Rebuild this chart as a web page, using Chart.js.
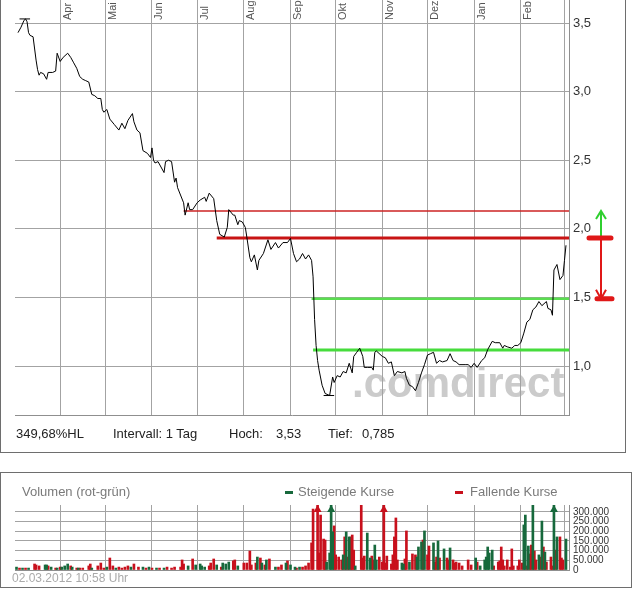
<!DOCTYPE html>
<html>
<head>
<meta charset="utf-8">
<script src="https://cdn.jsdelivr.net/npm/chart.js@4.4.1/dist/chart.umd.min.js"></script>
<style>
  body { margin: 0; background: #fff; font-family: "Liberation Sans", Arial, sans-serif; }
  #wrap { position: relative; width: 632px; height: 590px; overflow: hidden; }
  .box { position: absolute; border: 1px solid #6e6e6e; box-sizing: border-box; }
  .txt { position: absolute; white-space: nowrap; font-size: 13px; line-height: 16px; }
  .dash { position: absolute; width: 8px; height: 3px; }
  canvas { position: absolute; left: 0; }
</style>
</head>
<body>
<div id="wrap">
  <canvas id="priceChart" width="632" height="452" style="top:0"></canvas>
  <canvas id="volChart" width="632" height="85" style="top:495px"></canvas>

  <div class="box" style="left:0;top:-2px;width:626px;height:455px;"></div>
  <div class="box" style="left:0;top:472px;width:632px;height:116px;"></div>

  <div class="txt" style="left:16px;top:426px;color:#222">349,68%HL</div>
  <div class="txt" style="left:113px;top:426px;color:#222">Intervall: 1 Tag</div>
  <div class="txt" style="left:229px;top:426px;color:#222">Hoch:</div>
  <div class="txt" style="left:276px;top:426px;color:#222">3,53</div>
  <div class="txt" style="left:328px;top:426px;color:#222">Tief:</div>
  <div class="txt" style="left:362px;top:426px;color:#222">0,785</div>

  <div class="txt" style="left:22px;top:484px;color:#7a7a7a">Volumen (rot-grün)</div>
  <div class="dash" style="left:285px;top:491px;background:#17693c"></div>
  <div class="txt" style="left:298px;top:484px;color:#7a7a7a">Steigende Kurse</div>
  <div class="dash" style="left:455px;top:491px;background:#c8101c"></div>
  <div class="txt" style="left:470px;top:484px;color:#7a7a7a">Fallende Kurse</div>

  <div class="txt" style="left:12px;top:570px;font-size:12px;color:#aaa">02.03.2012 10:58 Uhr</div>
</div>

<script>
// days counted from 1 March 2011
const months = ['Apr', 'Mai', 'Jun', 'Jul', 'Aug', 'Sep', 'Okt', 'Nov', 'Dez', 'Jan', 'Feb'];
const monthDays = [31, 61, 92, 122, 153, 184, 214, 245, 275, 306, 337];
const gridDays = [31, 61, 92, 122, 153, 184, 214, 245, 275, 306, 337, 366];

const priceTicks = [1.0, 1.5, 2.0, 2.5, 3.0, 3.5];
const volTicks = [0, 50000, 100000, 150000, 200000, 250000, 300000];

const days = [3, 5, 7, 8, 9, 10, 11, 13, 15, 16, 17, 18, 20, 22, 23, 26, 28, 29, 31, 33,
  36, 38, 40, 42, 44, 46, 48, 50, 52, 54, 56, 58, 59, 60, 62, 64, 67, 70, 72, 74,
  76, 79, 80, 82, 84, 86, 89, 91, 92, 93, 94, 96, 100, 101, 103, 105, 107, 108, 109, 113,
  114, 116, 117, 119, 122, 124, 127, 128, 130, 133, 135, 137, 140, 142, 143, 146, 147, 149, 150, 152,
  154, 155, 157, 158, 160, 162, 163, 166, 169, 171, 174, 176, 179, 182, 184, 186, 188, 190, 192, 194,
  196, 198, 199, 200, 201, 202, 203, 205, 207, 210, 212, 213, 215, 217, 219, 221, 223, 225, 226, 228,
  230, 232, 233, 235, 238, 239, 240, 241, 245, 247, 249, 251, 253, 255, 258, 260, 261, 263, 265, 267,
  269, 271, 273, 275, 277, 279, 281, 283, 285, 288, 290, 292, 294, 296, 300, 302, 304, 306, 308, 311,
  313, 315, 318, 320, 323, 325, 326, 328, 331, 333, 335, 337, 339, 341, 343, 345, 347, 349, 351, 354,
  355, 357, 358, 359, 361, 363, 365, 366, 367];
const prices = [3.43, 3.47, 3.52, 3.53, 3.51, 3.43, 3.41, 3.40, 3.23, 3.16, 3.12, 3.14, 3.13, 3.09, 3.14, 3.14, 3.15, 3.28, 3.22, 3.25,
  3.28, 3.25, 3.21, 3.17, 3.11, 3.09, 3.08, 3.07, 2.98, 2.97, 2.95, 2.95, 2.87, 2.85, 2.87, 2.80, 2.76, 2.72, 2.77, 2.73,
  2.79, 2.84, 2.78, 2.72, 2.70, 2.57, 2.55, 2.52, 2.59, 2.50, 2.48, 2.49, 2.41, 2.49, 2.50, 2.49, 2.34, 2.37, 2.30, 2.19,
  2.10, 2.19, 2.14, 2.14, 2.19, 2.21, 2.23, 2.20, 2.26, 2.22, 2.06, 1.96, 1.94, 2.01, 2.14, 2.10, 2.10, 2.03, 2.06, 2.05,
  2.01, 1.94, 1.79, 1.76, 1.81, 1.70, 1.77, 1.82, 1.92, 1.85, 1.90, 1.86, 1.90, 1.90, 1.93, 1.82, 1.76, 1.78, 1.82, 1.78,
  1.81, 1.77, 1.65, 1.34, 1.15, 1.04, 0.97, 0.86, 0.80, 0.785, 0.92, 0.88, 0.93, 0.92, 0.96, 0.95, 1.02, 0.95, 1.07, 1.10,
  1.13, 1.07, 0.99, 0.99, 0.99, 0.97, 1.10, 1.11, 1.07, 1.06, 1.02, 1.03, 0.93, 0.96, 0.95, 0.96, 0.91, 0.86, 0.85, 0.82,
  0.88, 0.95, 1.01, 1.08, 1.09, 1.10, 1.02, 1.04, 1.03, 1.04, 1.09, 1.04, 1.03, 1.01, 1.01, 1.01, 0.99, 1.02, 0.99, 1.04,
  1.06, 1.12, 1.18, 1.17, 1.17, 1.13, 1.15, 1.14, 1.13, 1.15, 1.15, 1.17, 1.24, 1.32, 1.34, 1.41, 1.43, 1.47, 1.44, 1.47,
  1.42, 1.41, 1.37, 1.70, 1.74, 1.63, 1.66, 1.77, 1.88];

// resistance / support lines: level and the day where each line starts
const levels = [2.13, 1.933, 1.49, 1.117];
const levelStart = [113, 135, 198, 199];
const levelColors = ['rgb(205,35,35)', 'rgb(200,20,20)', 'rgb(90,222,80)', 'rgb(70,220,60)'];
const levelWidths = [1.5, 3, 2.5, 3];

const highMark = { value: 3.53, from: 4, to: 11 };
const lowMark = { value: 0.785, from: 206, to: 213 };

// volume (rot-grün)
const upDays = [2, 6, 10, 21, 22, 25, 29, 32, 34, 36, 39, 43, 52, 62, 68, 78, 86, 90, 95, 100,
  116, 121, 124, 125, 127, 135, 139, 141, 143, 149, 162, 165, 168, 174, 181, 184, 187, 190, 208, 210,
  211, 212, 219, 221, 223, 227, 235, 237, 240, 241, 258, 259, 263, 268, 269, 271, 273, 279, 282, 286,
  290, 307, 310, 313, 314, 315, 316, 318, 339, 340, 342, 345, 349, 351, 353, 359, 361, 367];
const upVol = [15000, 10000, 10000, 26000, 26000, 15000, 10000, 15000, 21000, 31000, 15000, 10000, 10000, 15000, 10000, 15000, 15000, 15000, 10000, 10000,
  21000, 26000, 31000, 21000, 15000, 26000, 36000, 31000, 41000, 21000, 67000, 36000, 52000, 15000, 36000, 26000, 15000, 15000, 41000, 88000,
  400000, 197000, 78000, 197000, 171000, 21000, 191000, 62000, 129000, 52000, 36000, 31000, 41000, 67000, 119000, 145000, 202000, 140000, 150000, 109000,
  114000, 62000, 21000, 52000, 67000, 119000, 88000, 103000, 233000, 284000, 124000, 335000, 78000, 253000, 93000, 400000, 171000, 160000];

const downDays = [4, 8, 14, 15, 17, 23, 28, 31, 38, 42, 44, 46, 50, 51, 56, 58, 60, 64, 66, 70,
  72, 74, 76, 80, 83, 88, 92, 97, 102, 105, 107, 111, 112, 113, 119, 130, 131, 133, 138, 146,
  147, 153, 155, 157, 158, 161, 164, 167, 170, 176, 178, 182, 188, 192, 194, 196, 198, 199, 202, 203,
  204, 206, 207, 213, 214, 216, 218, 220, 222, 224, 225, 226, 231, 232, 233, 238, 239, 243, 245, 246,
  247, 248, 251, 252, 253, 254, 255, 260, 261, 265, 267, 272, 275, 276, 280, 281, 283, 288, 289, 292,
  293, 294, 296, 298, 302, 304, 308, 319, 322, 323, 324, 325, 326, 328, 330, 331, 332, 335, 336, 338,
  341, 343, 344, 346, 347, 350, 352, 354, 357, 358, 360, 363, 364, 365];
const downVol = [10000, 10000, 31000, 26000, 21000, 21000, 10000, 15000, 21000, 10000, 10000, 10000, 21000, 31000, 21000, 36000, 10000, 62000, 21000, 15000,
  10000, 15000, 21000, 31000, 15000, 10000, 10000, 10000, 15000, 10000, 15000, 15000, 52000, 31000, 57000, 21000, 36000, 57000, 15000, 47000,
  52000, 36000, 36000, 98000, 26000, 36000, 62000, 26000, 57000, 15000, 26000, 47000, 10000, 15000, 21000, 36000, 140000, 315000, 400000, 88000,
  284000, 160000, 155000, 228000, 78000, 67000, 52000, 171000, 67000, 171000, 181000, 103000, 335000, 62000, 72000, 72000, 52000, 67000, 41000, 400000,
  36000, 72000, 31000, 78000, 171000, 269000, 52000, 57000, 202000, 83000, 78000, 155000, 78000, 124000, 41000, 67000, 62000, 62000, 52000, 52000,
  36000, 41000, 36000, 21000, 52000, 26000, 41000, 21000, 41000, 47000, 119000, 52000, 21000, 52000, 15000, 109000, 21000, 21000, 52000, 36000,
  21000, 83000, 129000, 98000, 52000, 67000, 119000, 41000, 67000, 21000, 103000, 171000, 62000, 52000];

const FONT = '"Liberation Sans", Arial, sans-serif';
const GRID = '#a3a3a3';

const priceLine = days.map((d, i) => ({ x: d, y: prices[i] }));

const levelSets = levels.map((v, i) => ({
  data: [{ x: levelStart[i], y: v }, { x: 369, y: v }],
  borderColor: levelColors[i],
  borderWidth: levelWidths[i],
  pointRadius: 0
}));

const markSets = [highMark, lowMark].map(m => ({
  data: [{ x: m.from, y: m.value }, { x: m.to, y: m.value }],
  borderColor: '#000',
  borderWidth: 1,
  pointRadius: 0
}));

const watermark = {
  id: 'watermark',
  beforeDraw(chart) {
    const { ctx, chartArea } = chart;
    ctx.save();
    ctx.font = 'bold 42px ' + FONT;
    ctx.fillStyle = '#cbcbcb';
    ctx.textAlign = 'left';
    ctx.textBaseline = 'alphabetic';
    ctx.fillText('.comdirect', chartArea.right - 217, chartArea.bottom - 18);
    ctx.restore();
  }
};

const monthLabels = {
  id: 'monthLabels',
  afterDraw(chart) {
    const { ctx } = chart;
    const x = chart.scales.x;
    ctx.save();
    ctx.font = '11px ' + FONT;
    ctx.fillStyle = '#555';
    ctx.textAlign = 'left';
    ctx.textBaseline = 'alphabetic';
    months.forEach((m, i) => {
      const px = x.getPixelForValue(monthDays[i]);
      ctx.save();
      ctx.translate(px + 10.5, 20);
      ctx.rotate(-Math.PI / 2);
      ctx.fillText(m, 0, 0);
      ctx.restore();
    });
    ctx.restore();
  }
};

const rangeArrows = {
  id: 'rangeArrows',
  afterDraw(chart) {
    const { ctx, chartArea } = chart;
    const y = chart.scales.y;
    const ax = chartArea.right + 32;
    const yTop = y.getPixelForValue(levels[0]);
    const yRes = y.getPixelForValue(levels[1]);
    const ySup = y.getPixelForValue(levels[2]);
    ctx.save();
    ctx.lineWidth = 2;
    ctx.strokeStyle = '#2fcf2f';
    ctx.beginPath();
    ctx.moveTo(ax, yRes); ctx.lineTo(ax, yTop);
    ctx.moveTo(ax - 5, yTop + 8); ctx.lineTo(ax, yTop); ctx.lineTo(ax + 5, yTop + 8);
    ctx.stroke();
    ctx.strokeStyle = '#e01818';
    ctx.beginPath();
    ctx.moveTo(ax, yRes); ctx.lineTo(ax, ySup);
    ctx.moveTo(ax - 5, ySup - 9); ctx.lineTo(ax, ySup); ctx.lineTo(ax + 5, ySup - 9);
    ctx.stroke();
    ctx.lineWidth = 5;
    ctx.lineCap = 'round';
    ctx.beginPath();
    ctx.moveTo(ax - 12, yRes); ctx.lineTo(ax + 10, yRes);
    ctx.moveTo(ax - 4, ySup); ctx.lineTo(ax + 11, ySup);
    ctx.stroke();
    ctx.restore();
  }
};

new Chart(document.getElementById('priceChart'), {
  type: 'line',
  data: {
    datasets: [
      { data: priceLine, borderColor: '#000', borderWidth: 1, pointRadius: 0, tension: 0 },
      ...markSets,
      ...levelSets
    ]
  },
  options: {
    responsive: false,
    animation: false,
    events: [],
    plugins: { legend: { display: false }, tooltip: { enabled: false } },
    layout: { padding: { left: 15, right: 7, top: 0, bottom: 37 } },
    scales: {
      x: {
        type: 'linear', min: 1, max: 369,
        border: { display: true, color: '#8f8f8f' },
        grid: { color: GRID, drawTicks: false },
        ticks: { display: false },
        afterBuildTicks: s => { s.ticks = gridDays.map(v => ({ value: v })); },
        afterFit: s => { s.height = 0; s.paddingLeft = 0; s.paddingRight = 0; }
      },
      y: {
        position: 'right', min: 0.643, max: 3.668,
        border: { display: true, color: '#8f8f8f' },
        grid: { color: GRID, drawTicks: false },
        ticks: {
          padding: 4, color: '#333', font: { family: FONT, size: 13 },
          callback: v => v.toFixed(1).replace('.', ',')
        },
        afterBuildTicks: s => { s.ticks = priceTicks.map(v => ({ value: v })); },
        afterFit: s => { s.width = 56; s.paddingTop = 0; s.paddingBottom = 0; }
      }
    }
  },
  plugins: [watermark, monthLabels, rangeArrows]
});

const VOL_MAX = 336000;

const clipArrows = {
  id: 'clipArrows',
  afterDatasetsDraw(chart) {
    const { ctx, chartArea } = chart;
    const x = chart.scales.x;
    chart.data.datasets.forEach(ds => {
      ds.data.forEach(p => {
        if (p.y <= VOL_MAX) return;
        const px = x.getPixelForValue(p.x);
        ctx.save();
        ctx.fillStyle = ds.backgroundColor;
        ctx.beginPath();
        ctx.moveTo(px, chartArea.top);
        ctx.lineTo(px - 4, chartArea.top + 7);
        ctx.lineTo(px + 4, chartArea.top + 7);
        ctx.closePath();
        ctx.fill();
        ctx.restore();
      });
    });
  }
};

new Chart(document.getElementById('volChart'), {
  type: 'bar',
  data: {
    datasets: [
      { data: upDays.map((d, i) => ({ x: d, y: upVol[i] })), backgroundColor: '#17693c', barThickness: 2, grouped: false, clip: 0 },
      { data: downDays.map((d, i) => ({ x: d, y: downVol[i] })), backgroundColor: '#c8101c', barThickness: 2, grouped: false, clip: 0 }
    ]
  },
  options: {
    responsive: false,
    animation: false,
    events: [],
    plugins: { legend: { display: false }, tooltip: { enabled: false } },
    layout: { padding: { left: 15, right: 7, top: 10, bottom: 10 } },
    scales: {
      x: {
        type: 'linear', min: 1, max: 369, offset: false,
        border: { display: true, color: '#8f8f8f' },
        grid: { color: GRID, drawTicks: false, offset: false },
        ticks: { display: false },
        afterBuildTicks: s => { s.ticks = gridDays.map(v => ({ value: v })); },
        afterFit: s => { s.height = 0; s.paddingLeft = 0; s.paddingRight = 0; }
      },
      y: {
        position: 'right', min: 0, max: VOL_MAX,
        border: { display: true, color: '#8f8f8f' },
        grid: { color: GRID, drawTicks: false },
        ticks: {
          padding: 4, color: '#333', autoSkip: false, font: { family: FONT, size: 10 },
          callback: v => String(v).replace(/\B(?=(\d{3})+(?!\d))/g, '.')
        },
        afterBuildTicks: s => { s.ticks = volTicks.map(v => ({ value: v })); },
        afterFit: s => { s.width = 56; s.paddingTop = 0; s.paddingBottom = 0; }
      }
    }
  },
  plugins: [clipArrows]
});
</script>
</body>
</html>
